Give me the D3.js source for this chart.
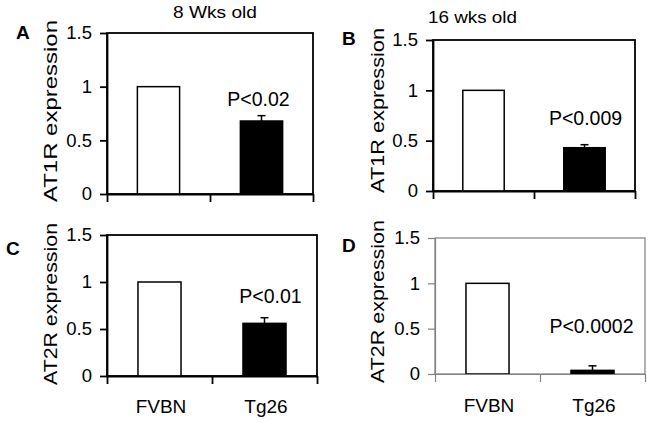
<!DOCTYPE html>
<html>
<head>
<meta charset="utf-8">
<script src="https://cdn.jsdelivr.net/npm/d3@7/dist/d3.min.js"></script>
<style>
  html, body { margin: 0; padding: 0; background: #fff; }
  svg { display: block; font-family: Arial, "Liberation Sans", sans-serif; }
</style>
</head>
<body>
<svg id="chart" width="651" height="423"></svg>
<script>
// ---------- data ----------
const panelLetters = ["A", "B", "C", "D"];
const panelTitles = ["8 Wks old", "16 wks old", "", ""];
const categories = ["FVBN", "Tg26"];
const fvbnValues = [1, 1, 1, 1];
const tg26Values = [0.68, 0.43, 0.56, 0.04];
const tg26Errors = [0.05, 0.03, 0.06, 0.05];
const pLabels = ["P<0.02", "P<0.009", "P<0.01", "P<0.0002"];
const yLabels = ["AT1R expression", "AT1R expression", "AT2R expression", "AT2R expression"];
const yTicks = [0, 0.5, 1, 1.5];
const yTickLabels = ["0", "0.5", "1", "1.5"];
const showCategoryLabels = [false, false, true, true];

// ---------- layout (positions / styles) ----------
const layout = [
  { left: 107, right: 313, top: 33, bottom: 194, axisColor: "#000", axisWidth: 1.8,
    letter: [16, 39], title: [173, 18, 84], ylab: [57, 111, 182], pY: 0.82, pDx: -3, catY: 0 },
  { left: 433, right: 635, top: 40, bottom: 191, axisColor: "#000", axisWidth: 1.8,
    letter: [342, 45], title: [428, 23, 89], ylab: [384, 110.5, 165], pY: 0.655, pDx: 1, catY: 0 },
  { left: 107, right: 317, top: 235, bottom: 376, axisColor: "#000", axisWidth: 1.8,
    letter: [6, 255], title: null, ylab: [57, 304, 162], pY: 0.78, pDx: 6, catY: 413 },
  { left: 435, right: 645, top: 238, bottom: 374, axisColor: "#808080", axisWidth: 1.2,
    letter: [342, 252], title: null, ylab: [384, 301.5, 163], pY: 0.45, pDx: -1, catY: 412 }
];

const svg = d3.select("#chart");

panelLetters.forEach((letter, i) => {
  const L = layout[i];
  const g = svg.append("g");

  const y = d3.scaleLinear().domain([0, 1.5]).range([L.bottom, L.top]);
  const x = d3.scaleBand().domain(categories).range([L.left, L.right])
    .paddingInner(0.59).paddingOuter(0.295);
  const xt = d3.scaleLinear().domain([0, 2]).range([L.left, L.right]);

  // frame box
  g.append("rect")
    .attr("x", L.left).attr("y", L.top)
    .attr("width", L.right - L.left).attr("height", L.bottom - L.top)
    .attr("fill", "none").attr("stroke", L.axisColor).attr("stroke-width", L.axisWidth);

  // bars
  const vals = [fvbnValues[i], tg26Values[i]];
  g.selectAll(".bar").data(categories).enter().append("rect")
    .attr("x", d => x(d))
    .attr("width", x.bandwidth())
    .attr("y", (d, j) => y(vals[j]))
    .attr("height", (d, j) => y(0) - y(vals[j]))
    .attr("fill", (d, j) => j === 0 ? "#fff" : "#000")
    .attr("stroke", "#000")
    .attr("stroke-width", 1.5);

  // error bar (upper only) on Tg26
  const cx = x("Tg26") + x.bandwidth() / 2;
  const yTop = y(tg26Values[i] + tg26Errors[i]);
  g.append("line").attr("x1", cx).attr("x2", cx)
    .attr("y1", y(tg26Values[i])).attr("y2", yTop)
    .attr("stroke", "#000").attr("stroke-width", 1.5);
  g.append("line").attr("x1", cx - 4).attr("x2", cx + 4)
    .attr("y1", yTop).attr("y2", yTop)
    .attr("stroke", "#000").attr("stroke-width", 1.5);

  // y axis
  const yAxis = g.append("g").attr("transform", `translate(${L.left},0)`)
    .call(d3.axisLeft(y).tickValues(yTicks)
      .tickFormat((d, k) => yTickLabels[k]).tickSize(7).tickSizeOuter(0).tickPadding(8));
  yAxis.select(".domain").attr("stroke", L.axisColor).attr("stroke-width", L.axisWidth);
  yAxis.selectAll(".tick line").attr("stroke", L.axisColor).attr("stroke-width", L.axisWidth);
  yAxis.selectAll(".tick text").attr("font-size", 18.5).attr("fill", "#000")
    .attr("font-family", "Arial, 'Liberation Sans', sans-serif");

  // x axis (ticks at band boundaries)
  const xAxis = g.append("g").attr("transform", `translate(0,${L.bottom})`)
    .call(d3.axisBottom(xt).tickValues([0, 1, 2]).tickFormat("").tickSize(8).tickSizeOuter(0));
  xAxis.select(".domain").attr("stroke", L.axisColor).attr("stroke-width", L.axisWidth);
  xAxis.selectAll(".tick line").attr("stroke", L.axisColor).attr("stroke-width", L.axisWidth);

  // category labels
  if (showCategoryLabels[i]) {
    g.selectAll(".cat").data(categories).enter().append("text")
      .attr("x", d => x(d) + x.bandwidth() / 2 + 1.5)
      .attr("y", L.catY)
      .attr("text-anchor", "middle")
      .attr("font-size", 19)
      .attr("fill", "#000")
      .text(d => d);
  }

  // p-value label
  g.append("text")
    .attr("x", cx + L.pDx)
    .attr("y", y(L.pY))
    .attr("text-anchor", "middle")
    .attr("font-size", 19.5)
    .attr("fill", "#000")
    .text(pLabels[i]);

  // y label (rotated, stretched)
  g.append("text")
    .attr("transform", `translate(${L.ylab[0]},${L.ylab[1]}) rotate(-90)`)
    .attr("text-anchor", "middle")
    .attr("font-size", 18)
    .attr("textLength", L.ylab[2])
    .attr("lengthAdjust", "spacingAndGlyphs")
    .attr("fill", "#000")
    .text(yLabels[i]);

  // panel letter
  g.append("text")
    .attr("x", L.letter[0]).attr("y", L.letter[1])
    .attr("font-size", 19).attr("font-weight", "bold").attr("fill", "#000")
    .text(letter);

  // title
  if (L.title && panelTitles[i]) {
    g.append("text")
      .attr("x", L.title[0]).attr("y", L.title[1])
      .attr("font-size", 16.5)
      .attr("textLength", L.title[2])
      .attr("lengthAdjust", "spacingAndGlyphs")
      .attr("fill", "#000")
      .text(panelTitles[i]);
  }
});
</script>
</body>
</html>
